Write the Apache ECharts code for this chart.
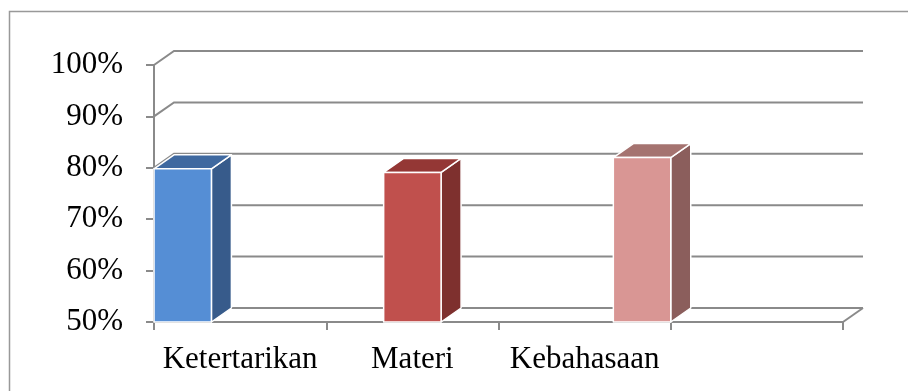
<!DOCTYPE html>
<html>
<head>
<meta charset="utf-8">
<script src="https://cdn.jsdelivr.net/npm/echarts@6/dist/echarts.min.js"></script>
<style>
  html, body { margin: 0; padding: 0; background: #fff; }
  #chart { width: 908px; height: 391px; }
</style>
</head>
<body>
<div id="chart"></div>
<script>
// Aspects assessed (the last band of the axis is left empty)
const categories = ['Ketertarikan', 'Materi', 'Kebahasaan', ''];
const seriesNames = ['Ketertarikan', 'Materi', 'Kebahasaan'];
const scores = [0.798, 0.791, 0.82];
const yTicks = [0.5, 0.6, 0.7, 0.8, 0.9, 1.0];

// Face colours per column: front, side, top
const faceColors = [
  ['#558ed5', '#375b8b', '#3f69a0'],
  ['#c0504d', '#7e302e', '#943735'],
  ['#d99694', '#8b5e5c', '#a57370']
];

// Depth of the pseudo-3D box
const DX = 20, DY = -14;
const GRID_COLOR = '#8a8a8a';
const FONT = 'Liberation Serif, Times New Roman, serif';

const chart = echarts.init(document.getElementById('chart'), null, { renderer: 'canvas' });

function bandInfo(api) {
  const band = api.size([1, 0])[0];
  const left = api.coord([0, yTicks[0]])[0] - band / 2;
  const right = api.coord([categories.length - 1, yTicks[0]])[0] + band / 2;
  return { band, left, right };
}

// Back wall gridlines with their side-wall diagonals
function renderWall(params, api) {
  const v = api.value(1);
  const b = bandInfo(api);
  const y = api.coord([0, v])[1];
  const style = { stroke: GRID_COLOR, lineWidth: 2, fill: null };
  const children = [{
    type: 'polyline',
    shape: { points: [[b.left, y], [b.left + DX, y + DY], [b.right + DX, y + DY]] },
    style: style
  }];
  if (v === yTicks[0]) {
    children.push({
      type: 'line',
      shape: { x1: b.right, y1: y, x2: b.right + DX, y2: y + DY },
      style: style
    });
  }
  return { type: 'group', children: children };
}

// One box-shaped column per item; each series occupies its own slot in the band
function makeBarRenderer(slot) {
  return function (params, api) {
    const cat = api.value(0);
    const v = api.value(1);
    const band = api.size([1, 0])[0];
    const w = band / seriesNames.length;
    const x0 = api.coord([cat, v])[0] - band / 2 + slot * w;
    const yTop = api.coord([cat, v])[1];
    const yBase = api.coord([cat, yTicks[0]])[1];
    const c = faceColors[slot];
    const edge = { stroke: '#ffffff', lineWidth: 1.5, lineJoin: 'round' };
    return {
      type: 'group',
      children: [
        {
          type: 'polygon',
          shape: { points: [[x0 + w, yTop], [x0 + w + DX, yTop + DY], [x0 + w + DX, yBase + DY], [x0 + w, yBase]] },
          style: Object.assign({ fill: c[1] }, edge)
        },
        {
          type: 'polygon',
          shape: { points: [[x0, yTop], [x0 + DX, yTop + DY], [x0 + w + DX, yTop + DY], [x0 + w, yTop]] },
          style: Object.assign({ fill: c[2] }, edge)
        },
        {
          type: 'rect',
          shape: { x: x0, y: yTop, width: w, height: yBase - yTop },
          style: Object.assign({ fill: c[0] }, edge)
        }
      ]
    };
  };
}

const barSeries = seriesNames.map(function (name, i) {
  return {
    type: 'custom',
    name: name,
    z: 3,
    renderItem: makeBarRenderer(i),
    encode: { x: 0, y: 1 },
    data: [[i, scores[i]]]
  };
});

chart.setOption({
  animation: false,
  backgroundColor: '#ffffff',
  graphic: [{
    type: 'rect',
    shape: { x: 9.5, y: 11.5, width: 1200, height: 1200 },
    style: { fill: null, stroke: '#999999', lineWidth: 1.5 },
    z: -10
  }],
  grid: { left: 154, right: 65, top: 65, bottom: 69, containLabel: false },
  xAxis: {
    type: 'category',
    data: categories,
    boundaryGap: true,
    axisLine: { show: true, lineStyle: { color: GRID_COLOR, width: 2 } },
    axisTick: { show: true, length: 8, lineStyle: { color: GRID_COLOR, width: 2 } },
    axisLabel: { color: '#000', fontFamily: FONT, fontSize: 31, margin: 22, interval: 0 },
    splitLine: { show: false }
  },
  yAxis: {
    type: 'value',
    min: yTicks[0],
    max: yTicks[yTicks.length - 1],
    interval: 0.1,
    axisLine: { show: true, lineStyle: { color: GRID_COLOR, width: 2 } },
    axisTick: { show: true, length: 8, lineStyle: { color: GRID_COLOR, width: 2 } },
    axisLabel: {
      color: '#000', fontFamily: FONT, fontSize: 31, margin: 31,
      formatter: function (v) { return Math.round(v * 100) + '%'; }
    },
    splitLine: { show: false }
  },
  series: [{
    type: 'custom',
    name: 'wall',
    z: 1,
    silent: true,
    renderItem: renderWall,
    encode: { x: 0, y: 1 },
    data: yTicks.map(function (t) { return [0, t]; })
  }].concat(barSeries)
});
</script>
</body>
</html>
